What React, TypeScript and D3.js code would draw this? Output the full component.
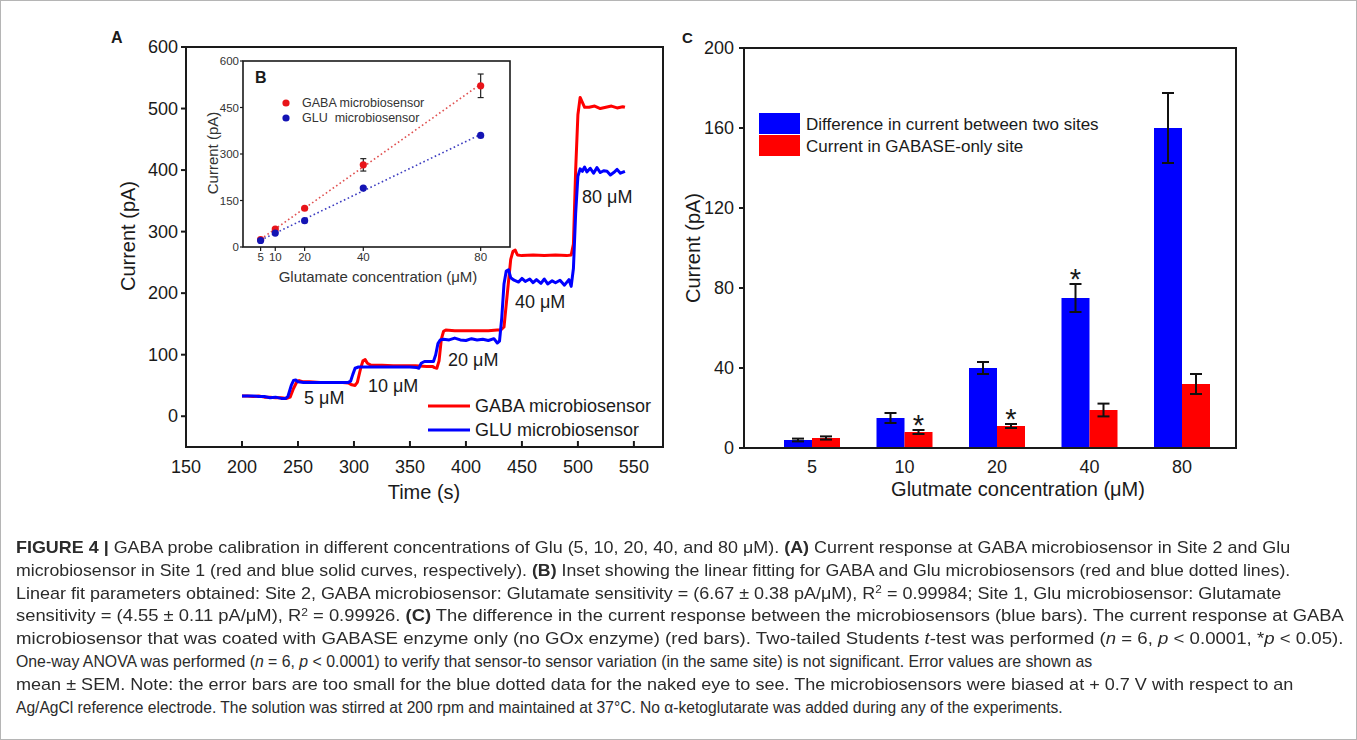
import React, { useRef, useEffect } from 'react';
import * as d3 from 'd3';

// Panel A: amperometric traces, [time (s), current (pA)]
const gabaTrace: [number, number][] = [
  [200, 33], [205, 33], [210, 32], [215, 33], [220, 31], [225, 31], [230, 30], [235, 30], [240, 29],
  [243, 31], [246, 45], [249, 56], [251, 58], [254, 56], [260, 56], [270, 55], [280, 55], [290, 55],
  [295, 54], [298, 51], [301, 50], [303, 55], [306, 78], [308, 90], [310, 92], [312, 86], [315, 83],
  [325, 83], [335, 82], [345, 82], [355, 82], [365, 81], [370, 81], [372, 79], [374, 78], [376, 90],
  [378, 125], [380, 138], [382, 140], [390, 139], [400, 139], [410, 139], [420, 139], [428, 140],
  [431, 140], [434, 145], [437, 200], [440, 255], [442, 268], [444, 270], [446, 262], [450, 261],
  [460, 262], [470, 261], [480, 262], [490, 261], [494, 262], [496, 280], [498, 400], [500, 490],
  [502, 518], [504, 510], [506, 502], [510, 502], [515, 504], [520, 500], [525, 502], [530, 504],
  [535, 501], [540, 503], [542, 502],
];
const gluTrace: [number, number][] = [
  [200, 33], [205, 33], [210, 33], [215, 32], [220, 32], [225, 30], [230, 31], [235, 29], [239, 29],
  [241, 32], [244, 50], [246, 58], [248, 59], [250, 56], [255, 55], [265, 55], [275, 55], [285, 55],
  [295, 55], [297, 57], [299, 68], [301, 78], [304, 80], [310, 80], [320, 80], [330, 80], [340, 80],
  [350, 80], [356, 79], [358, 78], [360, 86], [363, 89], [368, 89], [371, 89], [373, 100], [375, 118],
  [377, 124], [380, 125], [385, 124], [390, 127], [395, 124], [400, 123], [405, 126], [410, 124],
  [415, 125], [420, 123], [425, 126], [428, 119], [430, 122], [432, 160], [434, 215], [436, 236],
  [438, 238], [440, 225], [443, 221], [447, 218], [450, 224], [453, 219], [457, 223], [460, 217],
  [463, 222], [467, 216], [470, 223], [473, 215], [477, 220], [480, 217], [484, 221], [488, 213],
  [492, 222], [494, 211], [496, 240], [498, 330], [500, 390], [502, 402], [504, 398], [506, 405],
  [508, 397], [511, 403], [514, 395], [517, 404], [520, 396], [523, 399], [526, 398], [529, 392],
  [532, 396], [535, 401], [538, 395], [542, 398],
];
const stepLabels = ['5 μM', '10 μM', '20 μM', '40 μM', '80 μM'];
const stepLabelAt: [number, number][] = [[255.4, 20], [312.5, 39], [384, 82], [443.8, 176], [503.7, 346]];
const timeTicks = [150, 200, 250, 300, 350, 400, 450, 500, 550];
const currentTicksA = [0, 100, 200, 300, 400, 500, 600];

// Panel B: calibration inset
const insetConc = [5, 10, 20, 40, 80];
const insetGaba = [24, 58, 125, 265, 520];
const insetGabaErr = [3, 4, 5, 20, 38];
const insetGlu = [21, 45, 85, 190, 360];
const insetSlopeGaba = 6.67;
const insetSlopeGlu = 4.55;
const insetYTicks = [0, 150, 300, 450, 600];

// Panel C: bars
const barCats = ['5', '10', '20', '40', '80'];
const diffVals = [4, 15, 40, 75, 160];
const diffErr = [0.7, 2.5, 3, 7, 17.5];
const gabaseVals = [5, 8, 11, 19, 32];
const gabaseErr = [0.8, 1, 1, 3.2, 5];
const diffStar = [false, false, false, true, false];
const gabaseStar = [false, true, true, false, false];
const currentTicksC = [0, 40, 80, 120, 160, 200];

type Seg = { t: string; b?: boolean; i?: boolean; sup?: boolean };
const caption: { segs: Seg[]; w: number }[] = [
  { w: 1275, segs: [{ t: 'FIGURE 4 | ', b: true }, { t: 'GABA probe calibration in different concentrations of Glu (5, 10, 20, 40, and 80 μM). ' }, { t: '(A)', b: true }, { t: ' Current response at GABA microbiosensor in Site 2 and Glu' }] },
  { w: 1275, segs: [{ t: 'microbiosensor in Site 1 (red and blue solid curves, respectively). ' }, { t: '(B)', b: true }, { t: ' Inset showing the linear fitting for GABA and Glu microbiosensors (red and blue dotted lines).' }] },
  { w: 1266, segs: [{ t: 'Linear fit parameters obtained: Site 2, GABA microbiosensor: Glutamate sensitivity = (6.67 ± 0.38 pA/μM), R' }, { t: '2', sup: true }, { t: ' = 0.99984; Site 1, Glu microbiosensor: Glutamate' }] },
  { w: 1329, segs: [{ t: 'sensitivity = (4.55 ± 0.11 pA/μM), R' }, { t: '2', sup: true }, { t: ' = 0.99926. ' }, { t: '(C)', b: true }, { t: ' The difference in the current response between the microbiosensors (blue bars). The current response at GABA' }] },
  { w: 1328, segs: [{ t: 'microbiosensor that was coated with GABASE enzyme only (no GOx enzyme) (red bars). Two-tailed Students ' }, { t: 't', i: true }, { t: '-test was performed (' }, { t: 'n', i: true }, { t: ' = 6, ' }, { t: 'p', i: true }, { t: ' < 0.0001, *' }, { t: 'p', i: true }, { t: ' < 0.05).' }] },
  { w: 1077, segs: [{ t: 'One-way ANOVA was performed (' }, { t: 'n', i: true }, { t: ' = 6, ' }, { t: 'p', i: true }, { t: ' < 0.0001) to verify that sensor-to sensor variation (in the same site) is not significant. Error values are shown as' }] },
  { w: 1279, segs: [{ t: 'mean ± SEM. Note: the error bars are too small for the blue dotted data for the naked eye to see. The microbiosensors were biased at + 0.7 V with respect to an' }] },
  { w: 1047, segs: [{ t: 'Ag/AgCl reference electrode. The solution was stirred at 200 rpm and maintained at 37°C. No α-ketoglutarate was added during any of the experiments.' }] },
];

const FONT = '"Liberation Sans", Arial, Helvetica, sans-serif';
const RED = '#ff0000';
const BLUE = '#0000ff';
const INK = '#1a1a1a';

const App = () => {
  const svgRef = useRef<SVGSVGElement>(null);

  useEffect(() => {
    const svg = d3.select(svgRef.current);
    svg.selectAll('*').remove();
    svg.append('rect').attr('x', 0.5).attr('y', 0.5).attr('width', 1356).attr('height', 739)
      .attr('fill', 'white').attr('stroke', '#b5b5b5');

    // ---------- Panel A ----------
    const xA = d3.scaleLinear().domain([150, 576]).range([186, 663]);
    const yA = d3.scaleLinear().domain([-50, 600]).range([447, 47]);
    const gA = svg.append('g').attr('font-family', FONT).attr('fill', INK);

    gA.append('text').attr('x', 111).attr('y', 43).attr('font-weight', 'bold').attr('font-size', 16).text('A');

    const line = d3.line<[number, number]>().x((d) => xA(d[0])).y((d) => yA(d[1]));
    gA.append('path').attr('d', line(gabaTrace)).attr('fill', 'none').attr('stroke', RED)
      .attr('stroke-width', 3).attr('stroke-linejoin', 'round');
    gA.append('path').attr('d', line(gluTrace)).attr('fill', 'none').attr('stroke', BLUE)
      .attr('stroke-width', 3).attr('stroke-linejoin', 'round');

    gA.append('rect').attr('x', xA(150)).attr('y', yA(600)).attr('width', xA(576) - xA(150))
      .attr('height', yA(-50) - yA(600)).attr('fill', 'none').attr('stroke', INK).attr('stroke-width', 2);

    timeTicks.forEach((t) => {
      gA.append('line').attr('x1', xA(t)).attr('x2', xA(t)).attr('y1', yA(-50)).attr('y2', yA(-50) - 6)
        .attr('stroke', INK).attr('stroke-width', 2);
      gA.append('text').attr('x', xA(t)).attr('y', 473).attr('text-anchor', 'middle')
        .attr('font-size', 18).text(t);
    });
    currentTicksA.forEach((v) => {
      gA.append('line').attr('x1', xA(150) - 5).attr('x2', xA(150)).attr('y1', yA(v)).attr('y2', yA(v))
        .attr('stroke', INK).attr('stroke-width', 2);
      gA.append('text').attr('x', 178).attr('y', yA(v) + 6).attr('text-anchor', 'end')
        .attr('font-size', 18).text(v);
    });
    gA.append('text').attr('x', 424).attr('y', 499).attr('text-anchor', 'middle').attr('font-size', 20).text('Time (s)');
    gA.append('text').attr('transform', `translate(135,236) rotate(-90)`).attr('text-anchor', 'middle')
      .attr('font-size', 20).text('Current (pA)');

    stepLabels.forEach((s, i) => {
      gA.append('text').attr('x', xA(stepLabelAt[i][0])).attr('y', yA(stepLabelAt[i][1]))
        .attr('font-size', 18).text(s);
    });

    // legend A
    [['GABA microbiosensor', RED, 406], ['GLU microbiosensor', BLUE, 430]].forEach(([label, c, y]) => {
      gA.append('line').attr('x1', 428).attr('x2', 470).attr('y1', y as number).attr('y2', y as number)
        .attr('stroke', c as string).attr('stroke-width', 3);
      gA.append('text').attr('x', 475).attr('y', (y as number) + 6).attr('font-size', 18).text(label as string);
    });

    // ---------- Panel B (inset) ----------
    const xB = d3.scaleLinear().domain([-1, 90]).range([243, 510]);
    const yB = d3.scaleLinear().domain([0, 600]).range([247, 61]);
    const gB = svg.append('g').attr('font-family', FONT).attr('fill', '#333');
    gB.append('rect').attr('x', 243).attr('y', 61).attr('width', 267).attr('height', 186)
      .attr('fill', 'white').attr('stroke', INK).attr('stroke-width', 1.6);

    const fit = (ys: number[], slope: number) => {
      const b = d3.mean(ys)! - slope * d3.mean(insetConc)!;
      return [5, 80].map((x) => [x, slope * x + b] as [number, number]);
    };
    const lineB = d3.line<[number, number]>().x((d) => xB(d[0])).y((d) => yB(d[1]));
    gB.append('path').attr('d', lineB(fit(insetGaba, insetSlopeGaba))).attr('stroke', '#e05050')
      .attr('stroke-width', 1.6).attr('stroke-dasharray', '1.6 2.6').attr('fill', 'none');
    gB.append('path').attr('d', lineB(fit(insetGlu, insetSlopeGlu))).attr('stroke', '#3c3cc0')
      .attr('stroke-width', 1.6).attr('stroke-dasharray', '1.6 2.6').attr('fill', 'none');

    insetConc.forEach((c, i) => {
      const e = insetGabaErr[i];
      if (e > 6) {
        gB.append('line').attr('x1', xB(c)).attr('x2', xB(c)).attr('y1', yB(insetGaba[i] - e)).attr('y2', yB(insetGaba[i] + e))
          .attr('stroke', '#222').attr('stroke-width', 1.2);
        [insetGaba[i] - e, insetGaba[i] + e].forEach((v) => {
          gB.append('line').attr('x1', xB(c) - 3).attr('x2', xB(c) + 3).attr('y1', yB(v)).attr('y2', yB(v))
            .attr('stroke', '#222').attr('stroke-width', 1.2);
        });
      }
      gB.append('circle').attr('cx', xB(c)).attr('cy', yB(insetGaba[i])).attr('r', 3.6).attr('fill', '#e8141a');
      gB.append('circle').attr('cx', xB(c)).attr('cy', yB(insetGlu[i])).attr('r', 3.6).attr('fill', '#1414b4');
    });

    insetYTicks.forEach((v) => {
      gB.append('line').attr('x1', 240).attr('x2', 243).attr('y1', yB(v)).attr('y2', yB(v)).attr('stroke', INK).attr('stroke-width', 1.2);
      gB.append('text').attr('x', 239).attr('y', yB(v) + 4).attr('text-anchor', 'end').attr('font-size', 11.5).text(v);
    });
    insetConc.forEach((c) => {
      gB.append('line').attr('x1', xB(c)).attr('x2', xB(c)).attr('y1', 247).attr('y2', 251).attr('stroke', INK).attr('stroke-width', 1.2);
      gB.append('text').attr('x', xB(c)).attr('y', 261).attr('text-anchor', 'middle').attr('font-size', 11.5).text(c);
    });
    gB.append('text').attr('x', 378).attr('y', 282).attr('text-anchor', 'middle').attr('font-size', 15)
      .text('Glutamate concentration (μM)');
    gB.append('text').attr('transform', 'translate(218,153) rotate(-90)').attr('text-anchor', 'middle')
      .attr('font-size', 15).text('Current (pA)');
    gB.append('text').attr('x', 255).attr('y', 83).attr('font-weight', 'bold').attr('font-size', 16).attr('fill', INK).text('B');
    gB.append('circle').attr('cx', 286).attr('cy', 103).attr('r', 3.6).attr('fill', '#e8141a');
    gB.append('circle').attr('cx', 286).attr('cy', 118).attr('r', 3.6).attr('fill', '#1414b4');
    gB.append('text').attr('x', 302).attr('y', 107).attr('font-size', 12.5).text('GABA microbiosensor');
    gB.append('text').attr('x', 302).attr('y', 122).attr('font-size', 12.5).attr('xml:space', 'preserve').text('GLU  microbiosensor');

    // ---------- Panel C ----------
    const xC = d3.scalePoint<string>().domain(barCats).range([812, 1182]);
    const yC = d3.scaleLinear().domain([0, 200]).range([448, 48]);
    const bw = 28;
    const gC = svg.append('g').attr('font-family', FONT).attr('fill', INK);
    gC.append('text').attr('x', 682).attr('y', 43).attr('font-weight', 'bold').attr('font-size', 15).text('C');

    const drawBars = (vals: number[], errs: number[], stars: boolean[], color: string, off: number) => {
      barCats.forEach((c, i) => {
        const x0 = xC(c)! + off;
        gC.append('rect').attr('x', x0).attr('y', yC(vals[i])).attr('width', bw)
          .attr('height', yC(0) - yC(vals[i])).attr('fill', color);
        const cx = x0 + bw / 2;
        const top = yC(vals[i] + errs[i]);
        const bot = yC(vals[i] - errs[i]);
        gC.append('line').attr('x1', cx).attr('x2', cx).attr('y1', top).attr('y2', bot).attr('stroke', '#111').attr('stroke-width', 2);
        [top, bot].forEach((y) => {
          gC.append('line').attr('x1', cx - 6).attr('x2', cx + 6).attr('y1', y).attr('y2', y).attr('stroke', '#111').attr('stroke-width', 2);
        });
        if (stars[i]) {
          gC.append('text').attr('x', cx).attr('y', top + 5).attr('text-anchor', 'middle').attr('font-size', 29).text('*');
        }
      });
    };
    drawBars(diffVals, diffErr, diffStar, BLUE, -bw);
    drawBars(gabaseVals, gabaseErr, gabaseStar, RED, 0);

    gC.append('rect').attr('x', 744).attr('y', 48).attr('width', 1236 - 744).attr('height', 400)
      .attr('fill', 'none').attr('stroke', INK).attr('stroke-width', 2);
    currentTicksC.forEach((v) => {
      gC.append('line').attr('x1', 739).attr('x2', 744).attr('y1', yC(v)).attr('y2', yC(v)).attr('stroke', INK).attr('stroke-width', 2);
      gC.append('text').attr('x', 734).attr('y', yC(v) + 6).attr('text-anchor', 'end').attr('font-size', 18).text(v);
    });
    barCats.forEach((c) => {
      gC.append('text').attr('x', xC(c)!).attr('y', 473).attr('text-anchor', 'middle').attr('font-size', 18).text(c);
    });
    gC.append('text').attr('x', 1018).attr('y', 496).attr('text-anchor', 'middle').attr('font-size', 20)
      .text('Glutmate concentration (μM)');
    gC.append('text').attr('transform', 'translate(700,248) rotate(-90)').attr('text-anchor', 'middle')
      .attr('font-size', 20).text('Current (pA)');

    gC.append('rect').attr('x', 759).attr('y', 113).attr('width', 41).attr('height', 21).attr('fill', BLUE);
    gC.append('rect').attr('x', 759).attr('y', 135).attr('width', 41).attr('height', 21).attr('fill', RED);
    gC.append('text').attr('x', 806).attr('y', 130).attr('font-size', 17).text('Difference in current between two sites');
    gC.append('text').attr('x', 806).attr('y', 152).attr('font-size', 17).text('Current in GABASE-only site');

    // ---------- Caption ----------
    // each line is squeezed horizontally to the width it has in the print layout
    const gCap = svg.append('g').attr('font-family', '"Liberation Sans Narrow", "Liberation Sans", Arial, sans-serif')
      .attr('fill', '#2b2b2b').attr('font-size', 16);
    caption.forEach((ln, i) => {
      const t = gCap.append('text').attr('x', 0).attr('y', 0).attr('xml:space', 'preserve');
      ln.segs.forEach((s) => {
        const sp = t.append('tspan').text(s.t);
        if (s.b) sp.attr('font-weight', 'bold');
        if (s.i) sp.attr('font-style', 'italic');
        if (s.sup) sp.attr('font-size', 10.5).attr('baseline-shift', 'super');
      });
      const natural = (t.node() as SVGTextElement).getComputedTextLength() || ln.w;
      t.attr('transform', `translate(16,${553 + i * 22.8}) scale(${ln.w / natural},1)`);
    });
  }, []);

  return (
    <div style={{ position: 'fixed', left: 0, top: 0 }}>
      <svg ref={svgRef} width={1357} height={740} />
    </div>
  );
};

export default App;
